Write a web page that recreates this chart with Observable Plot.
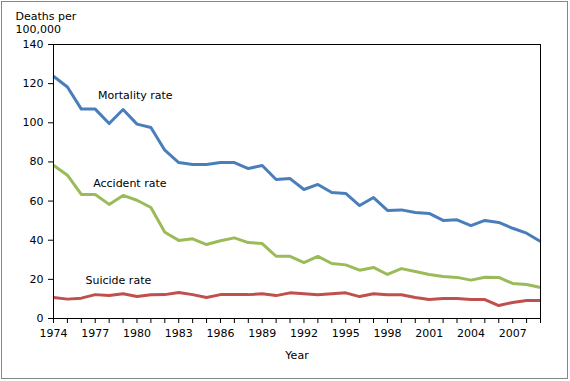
<!DOCTYPE html>
<html>
<head>
<meta charset="utf-8">
<script src="https://cdn.jsdelivr.net/npm/d3@7"></script>
<script src="https://cdn.jsdelivr.net/npm/@observablehq/plot@0.6"></script>
<style>
  html, body { margin: 0; padding: 0; background: #fff; }
  #wrap { position: relative; width: 570px; height: 381px; overflow: hidden; }
  #wrap svg { position: absolute; left: 0; top: 0; }
  #border { position: absolute; left: 1px; top: 1px; width: 565px; height: 376px; border: 1px solid #868686; pointer-events: none; }
</style>
</head>
<body>
<div id="wrap"><div id="border"></div></div>
<script>
const years = d3.range(1974, 2010);
const mortality = [123.8, 118.3, 107.0, 107.0, 99.6, 106.8, 99.3, 97.6, 86.0, 79.7, 78.7, 78.7, 79.7, 79.7, 76.6, 78.2, 71.0, 71.5, 65.9, 68.5, 64.4, 63.9, 57.7, 61.8, 55.2, 55.5, 54.2, 53.7, 50.1, 50.4, 47.5, 50.1, 49.1, 46.1, 43.6, 39.3];
const accident = [78.3, 73.2, 63.4, 63.4, 58.3, 62.9, 60.4, 56.7, 44.1, 39.9, 40.7, 37.8, 39.7, 41.2, 38.8, 38.3, 31.8, 31.8, 28.6, 31.7, 28.1, 27.4, 24.7, 26.1, 22.5, 25.5, 24.0, 22.5, 21.5, 21.0, 19.6, 21.1, 21.0, 17.9, 17.4, 15.8];
const suicide = [10.7, 9.9, 10.4, 12.2, 11.7, 12.6, 11.2, 12.1, 12.2, 13.3, 12.2, 10.7, 12.2, 12.2, 12.2, 12.6, 11.7, 13.1, 12.6, 12.1, 12.6, 13.1, 11.2, 12.6, 12.1, 12.1, 10.7, 9.7, 10.2, 10.2, 9.7, 9.7, 6.6, 8.2, 9.2, 9.2];
const seriesNames = ["Mortality rate", "Accident rate", "Suicide rate"];
const seriesColors = ["#4a7ebb", "#9bbb59", "#c0504d"];
const labelYears = [1977.2, 1976.85, 1976.3];
const labelValues = [114.1, 69.0, 19.4];
const yTicks = [0, 20, 40, 60, 80, 100, 120, 140];
const xLabelYears = d3.range(1974, 2010, 3);
const yTitle = "Deaths per\n100,000";
const xTitle = "Year";

const allSeries = [mortality, accident, suicide];
const rows = [];
allSeries.forEach((vals, i) => vals.forEach((v, j) => rows.push({year: years[j], value: v, series: seriesNames[i]})));
const labels = seriesNames.map((s, i) => ({name: s, year: labelYears[i], value: labelValues[i]}));

const chart = Plot.plot({
  width: 570,
  height: 381,
  marginLeft: 53,
  marginRight: 30,
  marginTop: 44,
  marginBottom: 63,
  style: {fontFamily: "'DejaVu Sans', Verdana, sans-serif", fontSize: "11px", color: "#000", background: "transparent"},
  x: {domain: [1974, 2009]},
  y: {domain: [0, 140]},
  color: {domain: seriesNames, range: seriesColors},
  marks: [
    Plot.axisX({ticks: years, tickSize: 5, tickPadding: 6, tickFormat: d => xLabelYears.includes(d) ? String(d) : "", label: null, stroke: "#000", fill: "#000"}),
    Plot.axisY({ticks: yTicks, tickSize: 5, tickPadding: 5, label: null, stroke: "#000", fill: "#000"}),
    Plot.line(rows, {x: "year", y: "value", z: "series", stroke: "series", strokeWidth: 3, strokeLinejoin: "round", strokeLinecap: "butt"}),
    Plot.frame({stroke: "#000", strokeWidth: 1}),
    Plot.text(labels, {x: "year", y: "value", text: "name", textAnchor: "start", lineAnchor: "middle", fill: "#000"}),
    Plot.text([yTitle], {frameAnchor: "top-left", text: d => d, dx: -38, dy: -34, textAnchor: "start", lineAnchor: "top", lineHeight: 1.2, fill: "#000"}),
    Plot.text([xTitle], {frameAnchor: "bottom", text: d => d, dy: 37, textAnchor: "middle", lineAnchor: "middle", fill: "#000"})
  ]
});
document.getElementById("wrap").prepend(chart);
</script>
</body>
</html>
